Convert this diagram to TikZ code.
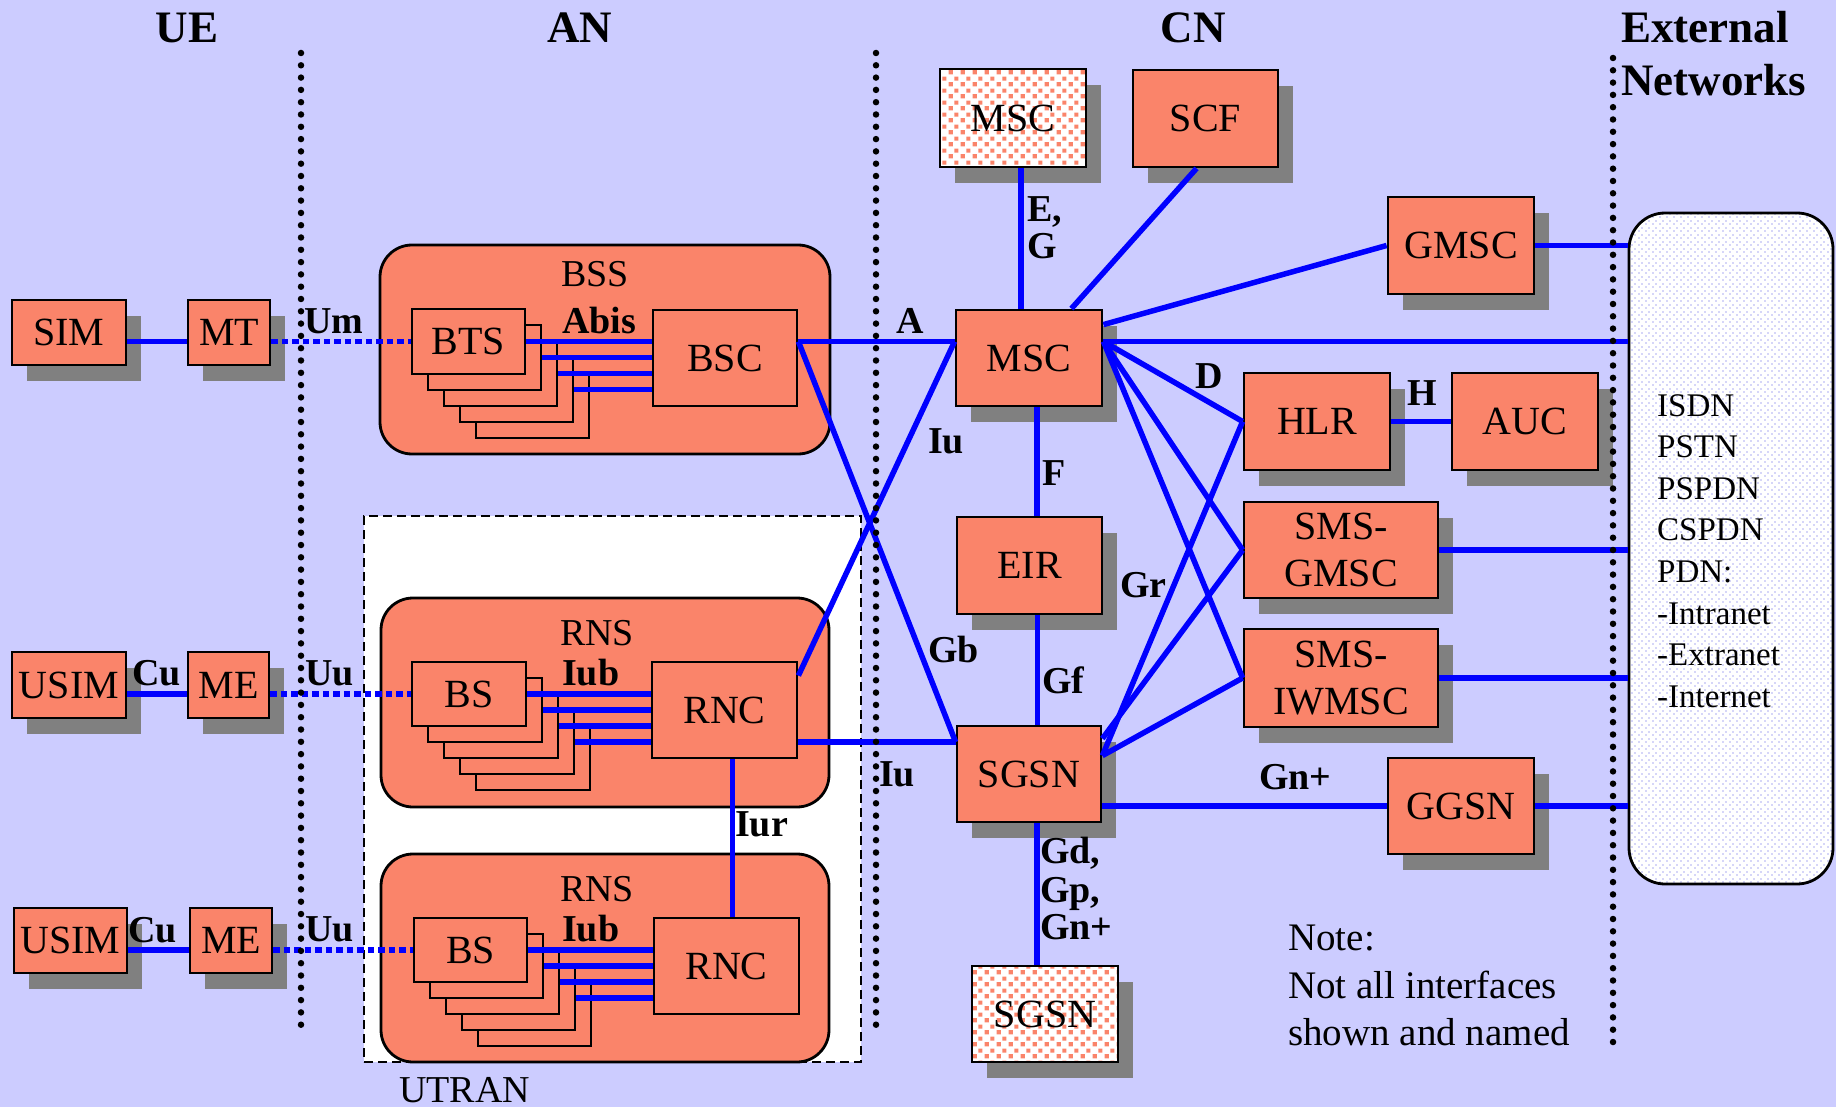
\documentclass[tikz,border=0pt]{standalone}
\usepackage{fontspec}
\setmainfont{Liberation Serif}
\usetikzlibrary{shadows,patterns,calc}

\definecolor{bgcol}{RGB}{204,204,255}
\definecolor{salmon}{RGB}{250,132,106}
\definecolor{shgray}{RGB}{128,128,128}
\definecolor{linkblue}{RGB}{0,0,255}
\definecolor{extdot}{RGB}{214,214,248}

% small staggered squares for the remote (other network) elements
\pgfdeclarepatternformonly{salmonsquares}{\pgfqpoint{0pt}{0pt}}{\pgfqpoint{12pt}{12pt}}{\pgfqpoint{12pt}{12pt}}{%
  \pgfpathrectangle{\pgfqpoint{0.75pt}{0.75pt}}{\pgfqpoint{4.5pt}{4.5pt}}%
  \pgfpathrectangle{\pgfqpoint{6.75pt}{6.75pt}}{\pgfqpoint{4.5pt}{4.5pt}}%
  \pgfusepath{fill}}
% faint dots for the external networks cloud
\pgfdeclarepatternformonly{finedots}{\pgfqpoint{0pt}{0pt}}{\pgfqpoint{7pt}{7pt}}{\pgfqpoint{7pt}{7pt}}{%
  \pgfpathrectangle{\pgfqpoint{0pt}{0pt}}{\pgfqpoint{2pt}{2pt}}%
  \pgfpathrectangle{\pgfqpoint{3.5pt}{3.5pt}}{\pgfqpoint{2pt}{2pt}}%
  \pgfusepath{fill}}

\tikzset{
  boxtext/.style={font=\fontsize{40}{42}\selectfont},
  elem/.style={draw, line width=2.8pt, fill=salmon, inner sep=0pt, align=center, boxtext},
  shadowed/.style={drop shadow={shadow xshift=15pt, shadow yshift=-16pt, fill=shgray, opacity=1}},
  remote/.style={draw, line width=2.8pt, inner sep=0pt, preaction={fill=white}, pattern=salmonsquares, pattern color=salmon, boxtext},
  group/.style={draw, line width=2.8pt, fill=salmon, rounded corners=32pt, inner sep=0pt},
  link/.style={draw=linkblue, line width=5.5pt},
  air/.style={draw=linkblue, line width=5.5pt, dash pattern=on 6.5pt off 4pt},
  border/.style={draw=black, line width=6.5pt, line cap=round, dash pattern=on 0pt off 12.3pt},
  iflabel/.style={font=\bfseries\fontsize{38}{38}\selectfont, inner sep=0pt, anchor=base west},
  plain/.style={font=\fontsize{38}{38}\selectfont, inner sep=0pt, anchor=base},
  netlist/.style={font=\fontsize{33}{33}\selectfont, inner sep=0pt, anchor=base west},
  notetext/.style={font=\fontsize{39}{39}\selectfont, inner sep=0pt, anchor=base west},
  header/.style={font=\bfseries\fontsize{45}{45}\selectfont, inner sep=0pt, anchor=base},
}

\begin{document}
\begin{tikzpicture}[x=1pt,y=-1pt]
\fill[bgcol] (0,0) rectangle (1836,1107);
\useasboundingbox (0,0) rectangle (1836,1107);

% ---------- domain headers ----------
\node[header] (hUE) at (187,43) {UE};
\node[header] (hAN) at (580,43) {AN};
\node[header] (hCN) at (1193,43) {CN};
\node[header, anchor=base west] (hExt) at (1621,43) {External};
\node[header, anchor=base west] (hNet) at (1621,96) {Networks};

% ---------- user equipment ----------
\node[elem, shadowed, minimum width=114pt, minimum height=65pt] (sim) at (69,332.5) {SIM};
\node[elem, shadowed, minimum width=82pt, minimum height=65pt] (mt) at (229,332.5) {MT};
\node[elem, shadowed, minimum width=114pt, minimum height=66pt] (usimA) at (69,685) {USIM};
\node[elem, shadowed, minimum width=81pt, minimum height=66pt] (meA) at (228.5,685) {ME};
\node[elem, shadowed, minimum width=113pt, minimum height=65pt] (usimB) at (70.5,940.5) {USIM};
\node[elem, shadowed, minimum width=82pt, minimum height=65pt] (meB) at (231,940.5) {ME};

% ---------- GSM access network ----------
\node[group, minimum width=450pt, minimum height=209pt] (bss) at (605,349.5) {};
\node[plain] (lBSS) at (595,287) {BSS};
\foreach \k in {4,3,2,1}
  \node[elem, minimum width=113pt, minimum height=65pt] (bts\k) at ({468.5+16*\k},{341.5+16*\k}) {};
\node[elem, minimum width=113pt, minimum height=65pt] (bts) at (468.5,341.5) {BTS};
\node[elem, minimum width=144pt, minimum height=96pt] (bsc) at (725,358) {BSC};

% ---------- UTRAN ----------
\node[draw, line width=2.8pt, dash pattern=on 9pt off 5pt, fill=white, inner sep=0pt,
      minimum width=497pt, minimum height=546pt] (utran) at (612.5,789) {};
\node[plain, anchor=base west] (lUtran) at (399,1102) {UTRAN};

\node[group, minimum width=448pt, minimum height=209pt] (rnsA) at (605,702.5) {};
\node[plain] (lRnsA) at (597,645) {RNS};
\foreach \k in {4,3,2,1}
  \node[elem, minimum width=114pt, minimum height=64pt] (bsA\k) at ({469+16*\k},{694+16*\k}) {};
\node[elem, minimum width=114pt, minimum height=64pt] (bsA) at (469,694) {BS};
\node[elem, minimum width=145pt, minimum height=96pt] (rncA) at (724.5,710) {RNC};

\node[group, minimum width=448pt, minimum height=208pt] (rnsB) at (605,958) {};
\node[plain] (lRnsB) at (597,901) {RNS};
\foreach \k in {4,3,2,1}
  \node[elem, minimum width=113pt, minimum height=64pt] (bsB\k) at ({470.5+16*\k},{950+16*\k}) {};
\node[elem, minimum width=113pt, minimum height=64pt] (bsB) at (470.5,950) {BS};
\node[elem, minimum width=145pt, minimum height=96pt] (rncB) at (726.5,966) {RNC};

% ---------- core network ----------
\node[shadowed, remote, minimum width=146pt, minimum height=98pt] (mscX) at (1013,118) {MSC};
\node[elem, shadowed, minimum width=145pt, minimum height=97pt] (scf) at (1205.5,118.5) {SCF};
\node[elem, shadowed, minimum width=146pt, minimum height=96pt] (msc) at (1029,358) {MSC};
\node[elem, shadowed, minimum width=145pt, minimum height=97pt] (eir) at (1029.5,565.5) {EIR};
\node[elem, shadowed, minimum width=144pt, minimum height=96pt] (sgsn) at (1029,774) {SGSN};
\node[shadowed, remote, minimum width=146pt, minimum height=96pt] (sgsnX) at (1045,1014) {SGSN};
\node[elem, shadowed, minimum width=146pt, minimum height=97pt] (gmsc) at (1461,245.5) {GMSC};
\node[elem, shadowed, minimum width=146pt, minimum height=97pt] (hlr) at (1317,421.5) {HLR};
\node[elem, shadowed, minimum width=146pt, minimum height=97pt] (auc) at (1525,421.5) {AUC};
\node[elem, shadowed, minimum width=194pt, minimum height=96pt] (smsg) at (1341,550) {SMS-\\[5pt]GMSC};
\node[elem, shadowed, minimum width=194pt, minimum height=98pt] (smsi) at (1341,678) {SMS-\\[5pt]IWMSC};
\node[elem, shadowed, minimum width=146pt, minimum height=96pt] (ggsn) at (1461,806) {GGSN};

% ---------- external networks ----------
\node[draw, line width=2.8pt, rounded corners=36pt, preaction={fill=white},
      pattern=finedots, pattern color=extdot, inner sep=0pt,
      minimum width=204pt, minimum height=671pt] (ext) at (1731,548.5) {};
\foreach \t [count=\i from 0] in {ISDN,PSTN,PSPDN,CSPDN,PDN:,-Intranet,-Extranet,-Internet}
  \node[netlist] (net\i) at (1657,{416+41.6*\i}) {\t};

% ---------- connectors: user side ----------
\draw[link] (sim.east |- bts.west) -- (mt.west |- bts.west);
\draw[air]  (mt.east |- bts.west) -- (bts.west);
\draw[link] (usimA.east |- bsA.west) -- (meA.west |- bsA.west);
\draw[air]  (meA.east |- bsA.west) -- (bsA.west);
\draw[link] (usimB.east |- bsB.west) -- (meB.west |- bsB.west);
\draw[air]  (meB.east |- bsB.west) -- (bsB.west);

% Abis / Iub bundles
\draw[link] (bts.east) -- (bts.east -| bsc.west);
\foreach \k in {1,2,3} \draw[link] (bts\k.east) -- (bts\k.east -| bsc.west);
\draw[link] (bsA.east) -- (bsA.east -| rncA.west);
\foreach \k in {1,2,3} \draw[link] (bsA\k.east) -- (bsA\k.east -| rncA.west);
\draw[link] (bsB.east) -- (bsB.east -| rncB.west);
\foreach \k in {1,2,3} \draw[link] (bsB\k.east) -- (bsB\k.east -| rncB.west);

% access to core
\coordinate (pBsc) at (bsc.east |- bts.east);
\coordinate (pMsc) at (msc.east |- bts.east);
\coordinate (pRnc) at (rncA.east |- bsA3.east);
\coordinate (pSgsn) at (sgsn.west |- bsA3.east);
\draw[link] (pBsc) -- (msc.west |- pBsc);
\draw[link] (pBsc) -- (pSgsn);
\draw[link] ([yshift=-15pt]rncA.north east) -- (msc.west |- pBsc);
\draw[link] (pRnc) -- (pSgsn);
\draw[link] ([xshift=8pt]rncA.south) -- ([xshift=8pt]rncA.south |- rncB.north);

% core network interfaces
\draw[link] ([xshift=8pt]mscX.south) -- ([xshift=8pt]mscX.south |- msc.north);
\draw[link] ([xshift=-9pt]scf.south) -- ([xshift=-32pt]msc.north east);
\draw[link] ([yshift=-16pt]msc.north east) -- (gmsc.west);
\draw[link] (pMsc) -- (ext.west |- pMsc);
\draw[link] (pMsc) -- (hlr.west);
\draw[link] (pMsc) -- (smsg.west);
\draw[link] (pMsc) -- (smsi.west);
\draw[link] ([xshift=8pt]msc.south) -- ([xshift=8pt]msc.south |- eir.north);
\draw[link] ([xshift=8pt]eir.south) -- ([xshift=8pt]eir.south |- sgsn.north);
\draw[link] ([yshift=-31pt]sgsn.north east) -- (hlr.west);
\draw[link] ([yshift=-14pt]sgsn.north east) -- (smsg.west);
\draw[link] ([yshift=-31pt]sgsn.north east) -- (smsi.west);
\draw[link] (sgsn.east |- ggsn.west) -- (ggsn.west);
\draw[link] ([xshift=8pt]sgsn.south) -- ([xshift=8pt]sgsn.south |- sgsnX.north);
\draw[link] (hlr.east) -- (auc.west);
\draw[link] (gmsc.east) -- (ext.west |- gmsc.east);
\draw[link] (smsg.east) -- (ext.west |- smsg.east);
\draw[link] (smsi.east) -- (ext.west |- smsi.east);
\draw[link] (ggsn.east) -- (ext.west |- ggsn.east);

% ---------- interface names ----------
\node[iflabel] (lUm) at (304,333) {Um};
\node[iflabel] (lAbis) at (562,333) {Abis};
\node[iflabel] (lCuA) at (132,685) {Cu};
\node[iflabel] (lCuB) at (128,942) {Cu};
\node[iflabel] (lUuA) at (305,685) {Uu};
\node[iflabel] (lUuB) at (305,941) {Uu};
\node[iflabel] (lIubA) at (562,685) {Iub};
\node[iflabel] (lIubB) at (562,941) {Iub};
\node[iflabel] (lIur) at (735,836) {Iur};
\node[iflabel] (lA) at (896,334) {A};
\node[iflabel] (lIuA) at (928,453) {Iu};
\node[iflabel] (lIuB) at (879,786) {Iu};
\node[iflabel] (lGb) at (928,662) {Gb};
\node[iflabel] (lE) at (1027,222) {E,};
\node[iflabel] (lG) at (1027,259) {G};
\node[iflabel] (lD) at (1195,388) {D};
\node[iflabel] (lH) at (1407,405) {H};
\node[iflabel] (lF) at (1042,485) {F};
\node[iflabel] (lGr) at (1120,597) {Gr};
\node[iflabel] (lGf) at (1042,693) {Gf};
\node[iflabel] (lGn) at (1259,789) {Gn+};
\node[iflabel] (lGd) at (1040,863) {Gd,};
\node[iflabel] (lGp) at (1040,902) {Gp,};
\node[iflabel] (lGnB) at (1040,939) {Gn+};

% ---------- note ----------
\node[notetext] (note1) at (1288,950) {Note:};
\node[notetext] (note2) at (1288,998) {Not all interfaces};
\node[notetext] (note3) at (1288,1045) {shown and named};

% ---------- domain borders ----------
\coordinate (b1t) at (301,53);  \coordinate (b1b) at (301,1030);
\coordinate (b2t) at (876,53);  \coordinate (b2b) at (876,1030);
\coordinate (b3t) at (1613,58); \coordinate (b3b) at (1613,1046);
\draw[border] (b1t) -- (b1b);
\draw[border] (b2t) -- (b2b);
\draw[border] (b3t) -- (b3b);
\end{tikzpicture}
\end{document}
